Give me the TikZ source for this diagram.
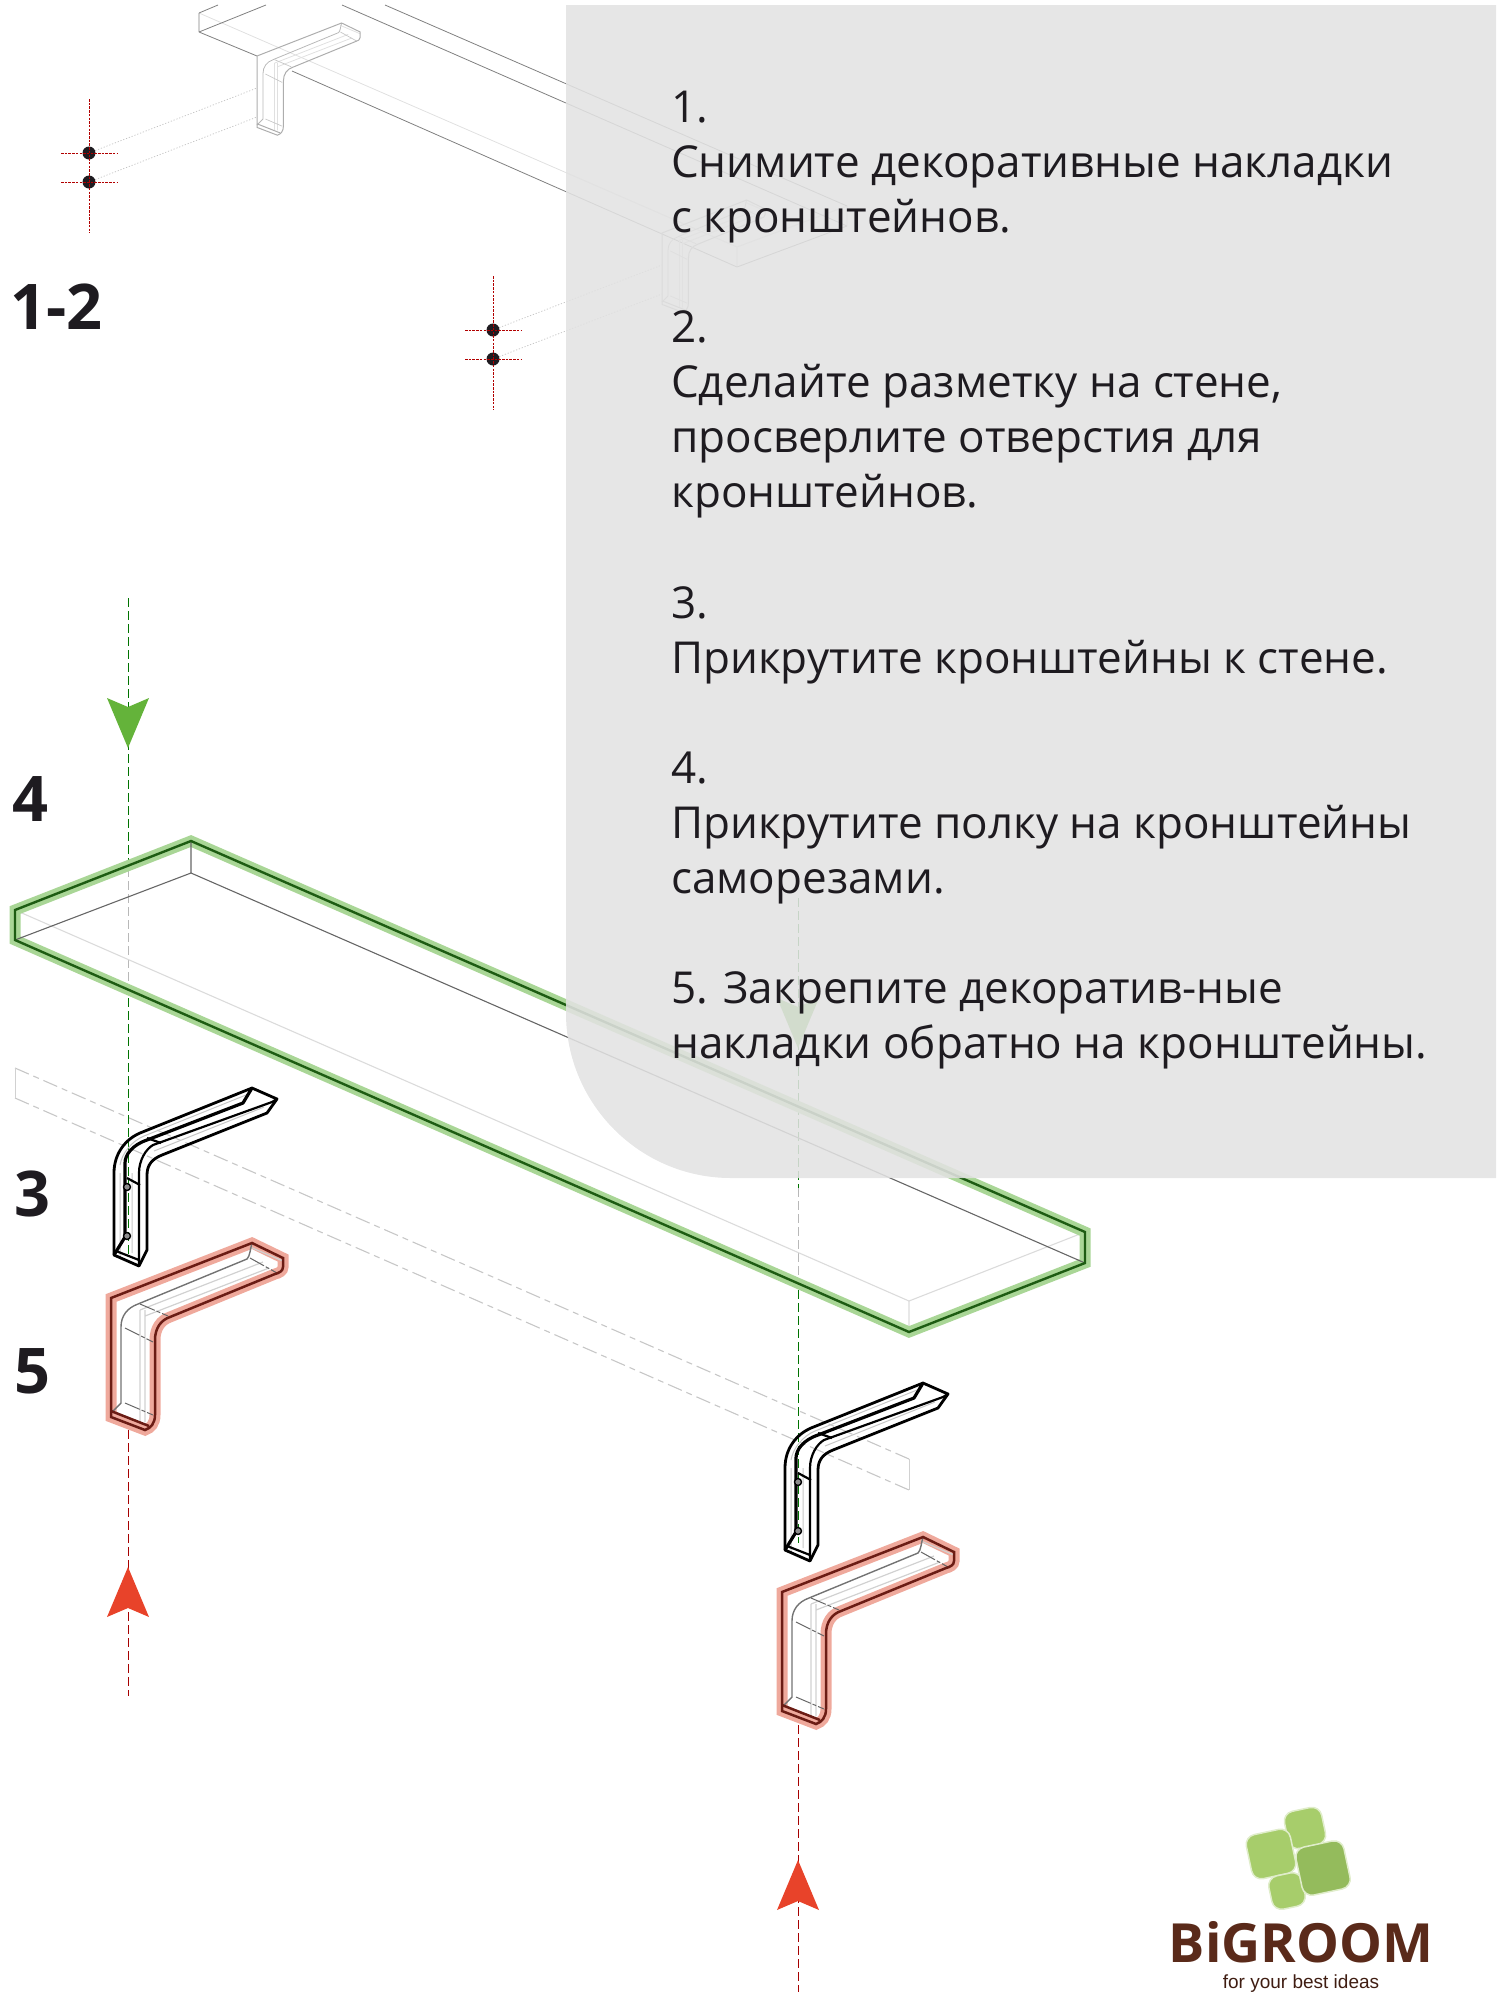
\documentclass[tikz,border=0pt]{standalone}
\usepackage{fontspec}
\setmainfont{Open Sans}
\newfontfamily\taglinefont{Liberation Sans}
\usepackage{tikz}
\usetikzlibrary{positioning}
\usetikzlibrary{calc}
\definecolor{panelgray}{HTML}{E2E2E2}
\definecolor{leafgreen}{HTML}{A7CD6B}
\definecolor{leafdark}{HTML}{94BB5C}
\definecolor{logobrown}{HTML}{5A2A1A}
\definecolor{numberink}{HTML}{1E1B20}
\definecolor{haloredcol}{HTML}{EFA99C}
\definecolor{edgeredcol}{HTML}{6B1C14}
\definecolor{haloshelf}{HTML}{A9D696}
\definecolor{edgeshelf}{HTML}{1D5C12}
\newcommand{\bracketoutline}{(0,0) -- (141,-55) -- (172,-40) -- (172,-31) .. controls (172,-27) and (168,-25) .. (164,-24) -- (59,19) .. controls (50,22) and (44,30) .. (44,42) -- (44,117) .. controls (44,125) and (40,130) .. (34,132) -- (0,119) -- cycle}

\begin{document}
\begin{tikzpicture}[x=1pt, y=-1pt,
	halored/.style={draw=none},
	edgered/.style={draw=black!32, line width=1pt},
	innerline/.style={draw=black!28, line width=.8pt},
	crossline/.style={draw=black!22, line width=.7pt},
	faintline/.style={draw=black!12, line width=.8pt},
	redkind/.style={halored/.style={draw=haloredcol, line width=11pt, line join=miter},
		edgered/.style={draw=edgeredcol, line width=2.5pt},
		innerline/.style={draw=black!55, line width=1.4pt},
		crossline/.style={draw=black!60, line width=1pt, dash pattern=on 16pt off 2pt on 4pt off 2pt},
		faintline/.style={draw=black!18, line width=1.2pt}},
	greenhalo/.style={draw=haloshelf, line width=11pt, line join=miter},
	greenedge/.style={draw=edgeshelf, line width=2.4pt, line join=miter},
	shelfinner/.style={draw=black!60, line width=1.1pt},
	shelffaint/.style={draw=black!14, line width=1.1pt},
	topshelf/.style={draw=black!50, line width=.8pt},
	topfaint/.style={draw=black!12, line width=.8pt},
	ghostline/.style={draw=black!22, line width=1.1pt, dash pattern=on 15pt off 5pt on 6pt off 5pt},
	axisgreen/.style={draw=green!45!black, line width=1pt, dash pattern=on 9pt off 4pt},
	axisgray/.style={draw=black!28, line width=1pt, dash pattern=on 9pt off 4pt},
	axisred/.style={draw=red!65!black, line width=1pt, dash pattern=on 9pt off 4pt},
	dimred/.style={draw=red!70!black, line width=.9pt, dash pattern=on 2.5pt off 1.2pt},
	guide/.style={draw=black!24, line width=.7pt, dash pattern=on 1.2pt off 1.8pt},
	blackedge/.style={draw=black, line width=2.8pt, line join=round},
	dotmark/.style={circle, fill=numberink, minimum size=13pt, inner sep=0pt},
	stepnum/.style={font=\fontsize{63}{63}\selectfont\bfseries, text=numberink, inner sep=0pt, anchor=base west},
	leaf/.style={rounded corners=10pt, fill=leafgreen, draw=leafgreen!35!white, line width=1.5pt, rotate=12, inner sep=0pt},
	redbracket/.pic={
		\draw[halored] \bracketoutline;
		\draw[faintline] (29,12) -- (29,124) (34,12) -- (34,124) (29,12) -- (152,-36) (34,18) -- (158,-30) (139,-51) -- (172,-37);
		\draw[innerline] (0,115) -- (10,105) -- (10,29) .. controls (10,18) and (16,10) .. (27,6) -- (136,-39) .. controls (139,-42) and (139,-48) .. (141,-55);
		\draw[crossline] (14,30) -- (42,44) (29,6) -- (57,18) (14,105) -- (42,117) (139,-40) -- (166,-25);
		\draw[edgered] \bracketoutline;
		\draw[edgered] (0,113) -- (38,128);
	},
	blackbracket/.pic={
		\draw[black!22, line width=1pt] (6,0) -- (6,86) (6,-8) .. controls (8,-20) and (18,-32) .. (30,-37) -- (132,-78) (18,0) -- (18,80) (40,-22) -- (150,-66);
		\draw[blackedge] (0,82) -- (0,0) .. controls (0,-20) and (12,-34) .. (26,-40) -- (138,-85) -- (163,-74) -- (153,-60) -- (48,-18) .. controls (38,-14) and (33,-8) .. (33,2) -- (33,77) -- (25,93) -- cycle;
		\draw[blackedge, line width=3.2pt] (0,82) -- (11,64) -- (11,-10) .. controls (11,-18) and (18,-28) .. (33,-33) -- (129,-70) -- (138,-85);
		\draw[blackedge, line width=2.2pt] (25,93) -- (25,0) .. controls (25,-13) and (32,-24) .. (39,-28) -- (158,-71) -- (163,-74);
		\draw[blackedge, line width=2.2pt] (2,78) -- (25,87) (13,5) -- (26,12) (33,-35) -- (47,-30);
		\draw[blackedge, line width=1.4pt, fill=black!45] (13,14) circle (3.5) (13,63) circle (3.5);
	},
	wallmark/.pic={
		\node[dotmark] (-up) at (0,0) {};
		\node[dotmark] (-low) at (0,29) {};
		\draw[dimred] (0,-54) -- (0,80) (-28,0) -- (28,0) (-28,29) -- (28,29);
	},
	headdown/.pic={
		\fill[pic actions] (-21,0) -- (0,9) -- (21,0) -- (0,50) -- cycle;
	},
	headup/.pic={
		\fill[pic actions] (-21,0) -- (0,-9) -- (21,0) -- (0,-50) -- cycle;
	}]
	\useasboundingbox (0,0) rectangle (1503,2000);

	% top shelf and its brackets
	\draw[topfaint] (199,13) -- (737,247) (737,247) -- (737,267) (737,247) -- (847,206) (847,206) -- (847,226);
	\draw[topshelf] (199,13) -- (218,5) (199,32) -- (266,5) (199,13) -- (199,32) (199,32) -- (257,56) (292,71) -- (737,267) -- (847,226) (342,5) -- (847,226) (385,5) -- (847,206);
	\pic[scale=.6] at (257,56) {redbracket};
	\pic[scale=.6] at (662,233) {redbracket};

	\pic (markA) at (89,153) {wallmark};
	\pic (markB) at (493,330) {wallmark};
	\coordinate (holeA1) at (257,88);
	\coordinate (holeA2) at (257,117);
	\coordinate (holeB1) at (662,265);
	\coordinate (holeB2) at (662,294);
	\draw[guide] (markA-up) -- (holeA1);
	\draw[guide] (markA-low) -- (holeA2);
	\draw[guide] (markB-up) -- (holeB1);
	\draw[guide] (markB-low) -- (holeB2);

	% ghost of the shelf
	\draw[ghostline] (15,1068) -- (909,1459);
	\draw[ghostline] (15,1098) -- (909,1490);
	\draw[black!18, line width=1pt] (15,1068) -- (15,1098) (909,1459) -- (909,1490);

	% axes
	\coordinate (axisLtop) at (128,598);
	\coordinate (axisLin) at (128,868);
	\coordinate (axisLout) at (128,985);
	\coordinate (axisLend) at (128,1257);
	\coordinate (axisLred) at (128,1430);
	\coordinate (axisLlow) at (128,1696);
	\coordinate (axisRtop) at (798,898);
	\coordinate (axisRin) at (798,1188);
	\coordinate (axisRout) at (798,1290);
	\coordinate (axisRend) at (798,1543);
	\coordinate (axisRred) at (798,1725);
	\coordinate (axisRlow) at (798,1992);
	\draw[axisgreen] (axisLtop) -- (axisLin);
	\draw[axisgray] (axisLin) -- (axisLout);
	\draw[axisgreen] (axisLout) -- (axisLend);
	\draw[axisred] (axisLred) -- (axisLlow);
	\draw[axisgreen] (axisRtop) -- (axisRin);
	\draw[axisgray] (axisRin) -- (axisRout);
	\draw[axisgreen] (axisRout) -- (axisRend);
	\draw[axisred] (axisRred) -- (axisRlow);
	\pic[fill={rgb,255:red,100;green,179;blue,58}] at (128,698) {headdown};
	\pic[fill={rgb,255:red,100;green,179;blue,58}] at (798,998) {headdown};
	\pic[fill={rgb,255:red,232;green,67;blue,42}] at (128,1617) {headup};
	\pic[fill={rgb,255:red,232;green,67;blue,42}] at (798,1910) {headup};

	% green shelf
	\draw[shelffaint] (15,910) -- (909,1301) -- (909,1332) (909,1301) -- (1085,1232);
	\draw[greenhalo] (15,910) -- (191,841) -- (1085,1232) -- (1085,1263) -- (909,1332) -- (15,940) -- cycle;
	\draw[shelfinner] (191,841) -- (191,873) (15,940) -- (191,873) -- (1085,1263);
	\draw[greenedge] (15,910) -- (191,841) -- (1085,1232) -- (1085,1263) -- (909,1332) -- (15,940) -- cycle;

	% brackets
	\pic at (114,1173) {blackbracket};
	\pic at (785,1468) {blackbracket};
	\pic[redkind] at (111,1298) {redbracket};
	\pic[redkind] at (782,1592) {redbracket};

	% panel
	\fill[panelgray, opacity=.88] (566,5) -- (1496,5) -- (1496,1178) -- (731,1178) .. controls (640,1178) and (566,1104) .. (566,1013) -- cycle;
	\node[anchor=north west, inner sep=0pt, align=left, font=\fontsize{44}{55.05}\selectfont, text=numberink] (howto) at (671,91) {1.\\
		Снимите декоративные накладки\\
		с кронштейнов.\\
		~\\
		2.\\
		Сделайте разметку на стене,\\
		просверлите отверстия для\\
		кронштейнов.\\
		~\\
		3.\\
		Прикрутите кронштейны к стене.\\
		~\\
		4.\\
		Прикрутите полку на кронштейны\\
		саморезами.\\
		~\\
		5. Закрепите декоратив-ные\\
		накладки обратно на кронштейны.};

	% step numbers
	\node[stepnum] (stepA) at (10,329) {1-2};
	\node[stepnum] (stepB) at (12,821) {4};
	\node[stepnum] (stepC) at (14,1216) {3};
	\node[stepnum] (stepD) at (14,1393) {5};

	% logo
	\node[leaf, minimum size=38pt] (leafA) at (1305,1828) {};
	\node[leaf, minimum size=45pt] (leafB) at (1271,1854) {};
	\node[leaf, minimum size=34pt] (leafC) at (1287,1891) {};
	\node[leaf, minimum size=49pt, fill=leafdark] (leafD) at (1323,1868) {};
	\node[anchor=base, inner sep=0pt, font=\fontsize{54}{54}\selectfont\bfseries, text=logobrown] (brand) at (1301,1962) {BiGROOM};
	\node[anchor=base, inner sep=0pt, font=\fontsize{19}{19}\selectfont\taglinefont, text=logobrown!70!black] (tagline) at (1301,1988) {for your best ideas};
\end{tikzpicture}
\end{document}
